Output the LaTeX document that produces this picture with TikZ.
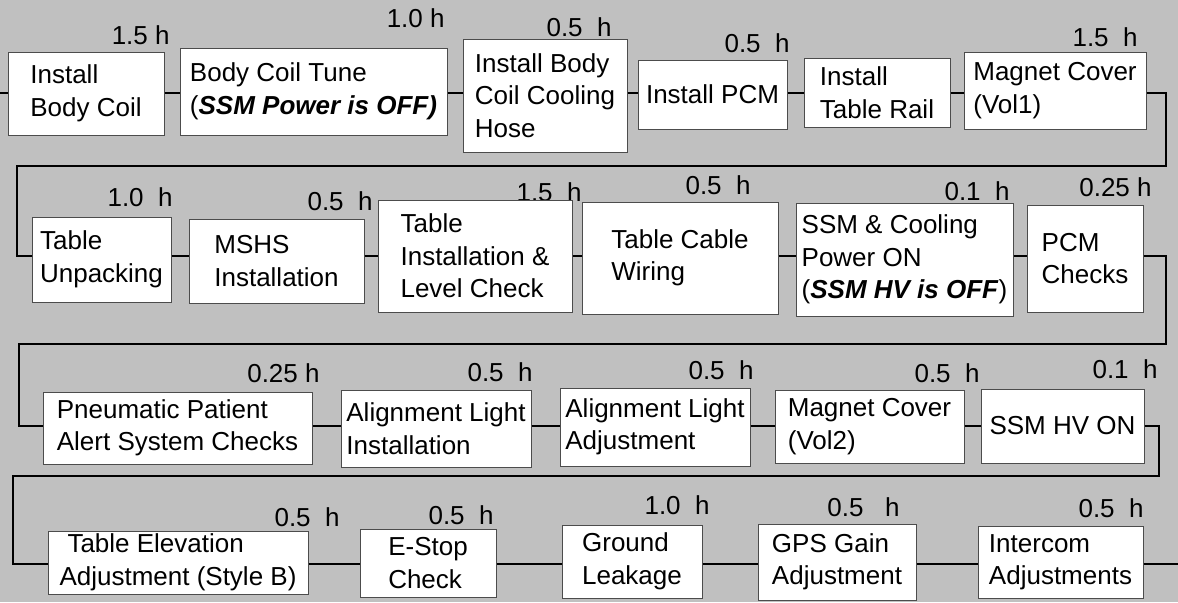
\documentclass[tikz,border=0pt]{standalone}
\usepackage{fontspec}
\setmainfont{Liberation Sans}
\definecolor{slide}{HTML}{C0C0C0}

\begin{document}
\begin{tikzpicture}[x=0.5pt, y=-0.5pt,
  task/.style={draw=black!70, line width=0.5pt, fill=white, align=left, inner sep=1pt, font=\fontsize{13}{16.25}\selectfont},
  dur/.style={anchor=east, inner sep=0pt, font=\fontsize{13}{16.25}\selectfont},
  link/.style={line width=1pt}]
  \useasboundingbox (0,0) rectangle (1178,602);
  \fill[slide] (0,0) rectangle (1178,602);

  % hours above each task
  \foreach \x/\y/\txt [count=\i] in {170/35/{1.5 h}, 445/18/{1.0 h}, 612/27/{0.5\ \ h}, 790/43/{0.5\ \ h}, 1138/37/{1.5\ \ h},
      173/197/{1.0\ \ h}, 373/201/{0.5\ \ h}, 582/192/{1.5\ \ h}, 751/185/{0.5\ \ h}, 1010/191/{0.1\ \ h}, 1152/187/{0.25 h},
      320/373/{0.25 h}, 533/372/{0.5\ \ h}, 754/370/{0.5\ \ h}, 980/373/{0.5\ \ h}, 1158/369/{0.1\ \ h},
      340/517/{0.5\ \ h}, 494/515/{0.5\ \ h}, 710/505/{1.0\ \ h}, 900/507/{0.5\ \ \ h}, 1144/508/{0.5\ \ h}}
    \node[dur] (h\i) at (\x,\y) {\txt};

  % row 1
  \node[task, minimum width=78pt, minimum height=41.5pt] (b1) at (86,93.5) {Install\\Body Coil};
  \node[task, minimum width=133.5pt, minimum height=43.5pt, inner xsep=0pt] (b2) at (313.5,91.5) {Body Coil Tune\\(\textbf{\textit{SSM Power is OFF)}}};
  \node[task, minimum width=82pt, minimum height=56.5pt] (b3) at (545,95.5) {Install Body\\Coil Cooling\\Hose};
  \node[task, minimum width=74.5pt, minimum height=34.5pt] (b4) at (712.5,94.5) {Install PCM};
  \node[task, minimum width=73pt, minimum height=34.5pt] (b5) at (877,92.5) {Install\\Table Rail};
  \node[task, minimum width=91pt, minimum height=38.5pt] (b6) at (1055,90.5) {Magnet Cover\\(Vol1)};

  % row 2
  \node[task, minimum width=69.5pt, minimum height=42.5pt] (c1) at (101.5,259.5) {Table\\Unpacking};
  \node[task, minimum width=87.5pt, minimum height=42pt] (c2) at (276.5,261) {MSHS\\Installation};
  \node[task, minimum width=97pt, minimum height=56pt] (c3) at (475,256) {Table\\Installation \&\\Level Check};
  \node[task, minimum width=98pt, minimum height=56pt] (c4) at (680,258) {Table Cable\\Wiring};
  \node[task, minimum width=108.5pt, minimum height=56.5pt] (c5) at (904.5,259.5) {SSM \& Cooling\\Power ON\\(\textbf{\textit{SSM HV is OFF}})};
  \node[task, minimum width=58pt, minimum height=53.5pt] (c6) at (1085,258.5) {PCM\\Checks};

  % row 3
  \node[task, minimum width=134.5pt, minimum height=36pt] (d1) at (177.5,428) {Pneumatic Patient\\Alert System Checks};
  \node[task, minimum width=95pt, minimum height=38.5pt] (d2) at (436,428.5) {Alignment Light\\Installation};
  \node[task, minimum width=95pt, minimum height=39pt] (d3) at (655,427) {Alignment Light\\Adjustment};
  \node[task, minimum width=94.5pt, minimum height=36.5pt] (d4) at (869.5,426.5) {Magnet Cover\\(Vol2)};
  \node[task, minimum width=81.5pt, minimum height=37pt] (d5) at (1062.5,426) {SSM HV ON};

  % row 4
  \node[task, minimum width=130pt, minimum height=31.5pt] (e1) at (178,562.5) {\hspace{4pt}Table Elevation\\Adjustment (Style B)};
  \node[task, minimum width=68pt, minimum height=34pt] (e2) at (428,563) {E-Stop\\Check};
  \node[task, minimum width=70pt, minimum height=36.5pt] (e3) at (632,561.5) {Ground\\Leakage};
  \node[task, minimum width=79pt, minimum height=38pt] (e4) at (837,562) {GPS Gain\\Adjustment};
  \node[task, minimum width=82.5pt, minimum height=36pt] (e5) at (1060.5,562) {Intercom\\Adjustments};

  % connector rows and bends
  \coordinate (r1) at (0,93);
  \coordinate (r2) at (0,256);
  \coordinate (r3) at (0,426);
  \coordinate (r4) at (0,564);
  \coordinate (k1) at (1166,166);
  \coordinate (k2) at (17,166);
  \coordinate (k3) at (1166,344);
  \coordinate (k4) at (19,344);
  \coordinate (k5) at (1159,476);
  \coordinate (k6) at (13,476);
  \coordinate (out) at (1178,564);

  \draw[link] (r1) -- (b1.west |- r1);
  \foreach \a/\b/\r in {b1/b2/r1, b2/b3/r1, b3/b4/r1, b4/b5/r1, b5/b6/r1,
      c1/c2/r2, c2/c3/r2, c3/c4/r2, c4/c5/r2, c5/c6/r2,
      d1/d2/r3, d2/d3/r3, d3/d4/r3, d4/d5/r3,
      e1/e2/r4, e2/e3/r4, e3/e4/r4, e4/e5/r4}
    \draw[link] (\a.east |- \r) -- (\b.west |- \r);
  \draw[link] (b6.east |- r1) -| (k1) -- (k2) |- (c1.west |- r2);
  \draw[link] (c6.east |- r2) -| (k3) -- (k4) |- (d1.west |- r3);
  \draw[link] (d5.east |- r3) -| (k5) -- (k6) |- (e1.west |- r4);
  \draw[link] (e5.east |- r4) -- (out);
\end{tikzpicture}
\end{document}
